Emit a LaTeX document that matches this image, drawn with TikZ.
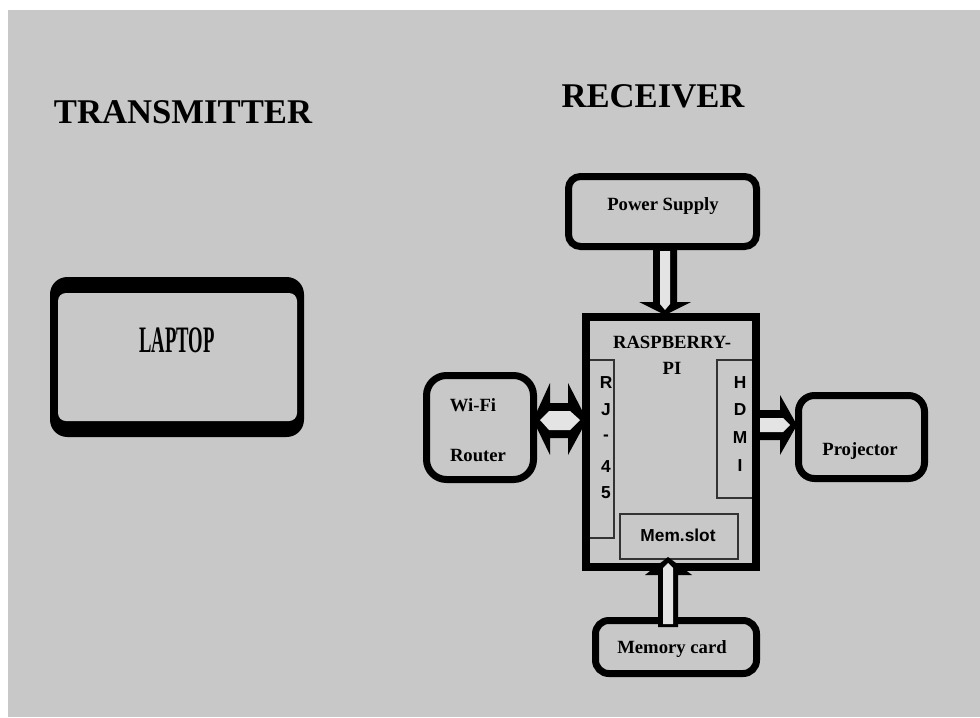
\documentclass[tikz,border=0pt]{standalone}
\usepackage{fontspec}
\setmainfont{Liberation Serif}
\setsansfont{Liberation Sans}
\definecolor{bg}{HTML}{C8C8C8}
\definecolor{chan}{HTML}{E4E4E4}
\begin{document}
\begin{tikzpicture}[x=0.75pt,y=-0.75pt,
  boxline/.style={draw=black, line width=5.25pt},
  thinbox/.style={draw=black!80, line width=0.8pt},
  title/.style={font=\fontsize{26}{30}\selectfont\bfseries, anchor=base, inner sep=0pt},
  lbl/.style={font=\fontsize{14}{16}\selectfont\bfseries, anchor=base, inner sep=0pt},
  sl/.style={font=\fontsize{13}{15}\selectfont\sffamily\bfseries, inner sep=0pt},
  slb/.style={font=\fontsize{13}{15}\selectfont\sffamily\bfseries, anchor=base, inner sep=0pt}]
\useasboundingbox (0,0) rectangle (980,717);
\fill[white] (0,0) rectangle (980,717);
\fill[bg] (8,10) rectangle (980,717);

% titles
\node[title] (tx) at (183,123) {TRANSMITTER};
\node[title] (rx) at (653,107) {RECEIVER};

% laptop
\fill[black, rounded corners=13pt] (50,277) rectangle (304,437);
\fill[bg, rounded corners=6pt] (58,293) rectangle (297,421);
\node[anchor=base, inner sep=0pt, font=\fontsize{28}{30}\selectfont\bfseries] (lap) at (177,352) {\scalebox{0.5}[1]{LAPTOP}};

% power supply
\draw[boxline, rounded corners=9pt] (568.5,176.5) rectangle (756.5,246.5);
\node[lbl] (ps) at (663,210) {Power Supply};

% raspberry pi
\draw[thinbox] (586,360) rectangle (614,538);
\draw[thinbox] (717,360) rectangle (755,498);
\draw[thinbox] (620,514) rectangle (738,559);
\draw[line width=6pt] (586,317) rectangle (756,567);
\node[lbl] (rp1) at (672,348) {RASPBERRY-};
\node[lbl] (rp2) at (672,374) {PI};
\node[sl] (r1) at (606,383) {R};
\node[sl] (r2) at (606,410) {J};
\node[sl] (r3) at (606,438) {-};
\node[sl] (r4) at (606,467) {4};
\node[sl] (r5) at (606,493) {5};
\node[sl] (h1) at (740,383) {H};
\node[sl] (h2) at (740,410) {D};
\node[sl] (h3) at (740,438) {M};
\node[sl] (h4) at (740,466) {I};
\node[slb] (ms) at (678,541) {Mem.slot};

% wifi router
\draw[boxline, rounded corners=15pt] (426.5,375.5) rectangle (533.5,479.5);
\node[lbl] (wf1) at (473,411) {Wi-Fi};
\node[lbl] (wf2) at (478,461) {Router};

% projector
\draw[boxline, rounded corners=12pt] (798.5,395.5) rectangle (924.5,478.5);
\node[lbl] (pj) at (860,455) {Projector};

% memory card
\draw[boxline, rounded corners=10pt] (595.5,620.5) rectangle (756.5,673.5);
\node[lbl] (mc) at (672,653) {Memory card};

% block arrows
% power -> pi
\fill[black] (653,247) -- (653,302) -- (639,302) -- (665,315) -- (691,302) -- (677,302) -- (677,247) -- cycle;
\fill[chan] (660,251) -- (660,304) -- (665,310) -- (670,304) -- (670,251) -- cycle;
% wifi <-> pi
\fill[black] (533,420) -- (550,383) -- (550,403) -- (568,403) -- (568,383) -- (587,420) -- (568,455) -- (568,438) -- (550,438) -- (550,455) -- cycle;
\fill[chan] (540,420) -- (549,411) -- (570,411) -- (580,420) -- (570,430) -- (549,430) -- cycle;
% pi -> projector
\fill[black] (753,410) -- (780,410) -- (780,395) -- (797,425) -- (780,455) -- (780,440) -- (753,440) -- cycle;
\fill[chan] (760,418) -- (783,418) -- (790,425) -- (783,432) -- (760,432) -- cycle;
% memory card -> slot
\fill[black] (658,627) -- (658,575) -- (645,575) -- (668,557) -- (692,575) -- (678,575) -- (678,627) -- cycle;
\fill[chan] (663,624) -- (663,568) -- (668,563) -- (673,568) -- (673,624) -- cycle;
\end{tikzpicture}
\end{document}
